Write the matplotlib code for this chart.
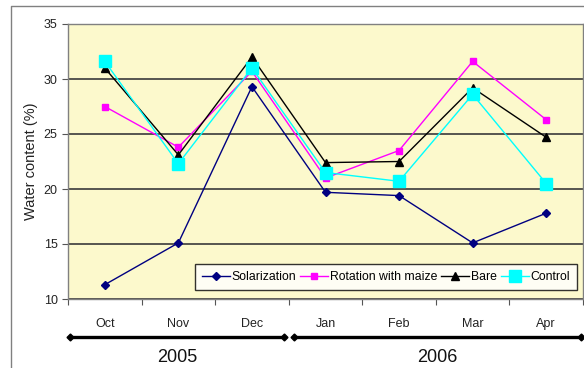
import matplotlib.pyplot as plt
from matplotlib.lines import Line2D

plt.rcParams['font.family'] = ['Liberation Sans', 'DejaVu Sans']

months = ['Oct', 'Nov', 'Dec', 'Jan', 'Feb', 'Mar', 'Apr']
solarization = [11.3, 15.1, 29.3, 19.7, 19.4, 15.1, 17.8]
rotation_maize = [27.5, 23.8, 30.7, 21.0, 23.5, 31.6, 26.3]
bare = [31.0, 23.1, 32.0, 22.4, 22.5, 29.2, 24.7]
control = [31.6, 22.3, 31.0, 21.5, 20.7, 28.6, 20.5]
years = ['2005', '2006']

W, H = 584, 368
fig = plt.figure(figsize=(W / 100, H / 100), dpi=100)
ax = fig.add_axes([68 / W, 1 - 299 / H, 515 / W, 275 / H])
ax.set_facecolor('#FCF9CC')

x = list(range(len(months)))
ax.plot(x, solarization, color='#000080', lw=1, marker='D', ms=4.5,
        label='Solarization')
ax.plot(x, rotation_maize, color='#FF00FF', lw=1, marker='s', ms=5,
        label='Rotation with maize')
ax.plot(x, bare, color='black', lw=1, marker='^', ms=6, label='Bare')
ax.plot(x, control, color='#00FFFF', lw=1, marker='s', ms=9,
        label='Control')

ax.set_xlim(-0.5, len(months) - 0.5)
ax.set_ylim(10, 35)
ax.set_yticks(range(10, 36, 5))
ax.yaxis.grid(True, color='#3a3a3a', lw=1.2)
ax.set_axisbelow(True)

# month names between boundary ticks
ax.set_xticks([i - 0.5 for i in range(len(months) + 1)])
ax.set_xticklabels([])
ax.set_xticks(x, minor=True)
ax.set_xticklabels(months, minor=True, fontsize=9, color='#222222')
ax.tick_params(axis='x', which='minor', length=0, pad=14)
ax.tick_params(axis='x', which='major', length=4, color='#555555')
ax.tick_params(axis='y', length=4, labelsize=9, color='#555555',
               labelcolor='#222222')

for side in ['top', 'right', 'left', 'bottom']:
    ax.spines[side].set_color('#808080')
    ax.spines[side].set_linewidth(1)

ax.set_ylabel('Water content (%)', fontsize=10.5, color='#222222', labelpad=4)

leg = ax.legend(loc='lower right', bbox_to_anchor=(0.988, 0.033), ncol=4,
                fontsize=8.8, frameon=True, fancybox=False, handlelength=2.3,
                columnspacing=0.3, handletextpad=0.15, borderpad=0.55,
                borderaxespad=0)
leg.get_frame().set_edgecolor('black')
leg.get_frame().set_linewidth(1)
leg.get_frame().set_facecolor('white')


def px(xp, yp):
    return xp / W, 1 - yp / H


# year spans under the months
for (x0, x1), label in zip([(70, 284), (294, 581)], years):
    (fx0, fy), (fx1, _) = px(x0, 337), px(x1, 337)
    fig.add_artist(Line2D([fx0, fx1], [fy, fy], color='black', lw=2.4,
                          marker='D', ms=3.5, transform=fig.transFigure))
    fig.text((fx0 + fx1) / 2, px(0, 357)[1], label, ha='center',
             va='center', fontsize=13, color='#111111')

# outer chart frame
fig.add_artist(Line2D([11 / W, 11 / W, 1], [0, 1 - 6 / H, 1 - 6 / H],
                      color='#808080', lw=1, transform=fig.transFigure))

fig.savefig('out.png', dpi=100)
